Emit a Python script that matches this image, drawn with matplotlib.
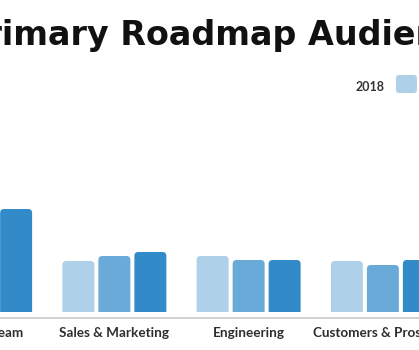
import numpy as np
import matplotlib.pyplot as plt
from matplotlib.patches import FancyBboxPatch

plt.rcParams['font.family'] = ['Lato', 'DejaVu Sans']

# ==============================================================================
# Data (percent of respondents)
# ==============================================================================
categories = ['Product Team', 'Sales & Marketing', 'Engineering', 'Customers & Prospects']
years = ['2018', '2019', '2020']
values_2018 = [46.0, 25.5, 28.0, 25.5]
values_2019 = [49.0, 28.0, 26.0, 23.5]
values_2020 = [51.5, 30.0, 26.0, 26.0]
series = [values_2018, values_2019, values_2020]
colors = ['#aed0e9', '#6aaad9', '#338ac9']

W, H, DPI = 419, 350, 100
fig = plt.figure(figsize=(W / DPI, H / DPI), dpi=DPI)

# axes placed in pixels (the chart is a crop of a wider figure)
ax_left, ax_right = -87, 450
ax_bottom, ax_top = 312, 100
ax = fig.add_axes([ax_left / W, 1 - ax_bottom / H,
                   (ax_right - ax_left) / W, (ax_bottom - ax_top) / H])
ax.set_xlim(-0.5, len(categories) - 0.5)
ax.set_ylim(0, (ax_bottom - ax_top) / 2.0)

px_x = len(categories) / (ax_right - ax_left)       # data x per pixel
px_y = 0.5                                          # data y per pixel
bar_w = 32 * px_x
step = 36 * px_x
rad = 4 * px_x

x = np.arange(len(categories))
for k, (vals, c) in enumerate(zip(series, colors)):
    for xi, v in zip(x, vals):
        left = xi + (k - 1) * step - bar_w / 2
        p = FancyBboxPatch((left, -10), bar_w, v + 10,
                           boxstyle=f"round,pad=0,rounding_size={rad}",
                           mutation_aspect=px_y / px_x,
                           fc=c, ec='none', clip_on=True)
        ax.add_patch(p)

for s in ['top', 'left', 'right']:
    ax.spines[s].set_visible(False)
ax.spines['bottom'].set_position(('outward', 4.6))
ax.spines['bottom'].set_color('#c9c9c9')
ax.spines['bottom'].set_linewidth(1.2)
ax.set_yticks([])
ax.set_xticks(x)
ax.set_xticklabels(categories, fontsize=9.7, color='#2e2e2e', fontweight='bold')
ax.tick_params(axis='x', length=0, pad=6)

# title, cropped on the left like the reference
tfont = dict(fontsize=24, fontweight='bold', family='DejaVu Sans')
title = fig.text(0, 1 - 45 / H, 'Primary Roadmap Audience', color='#111111',
                 ha='left', va='baseline', **tfont)
r = fig.canvas.get_renderer()
tmp = fig.text(0, 0, 'Primary ', **tfont)
pre_w = tmp.get_window_extent(r).width
tmp.remove()
title.set_x((120 - pre_w) / W)

# legend
lx = 396
for yr, c in zip(years, colors):
    fig.text((lx - 11) / W, 1 - 91 / H, yr, fontsize=9, fontweight='bold',
             color='#333333', ha='right', va='baseline')
    sw = FancyBboxPatch((lx / W, 1 - 93 / H), 21 / W, 18 / H,
                        boxstyle="round,pad=0,rounding_size=0.008",
                        mutation_aspect=W / H,
                        transform=fig.transFigure, fc=c, ec='none')
    fig.patches.append(sw)
    lx += 70

fig.savefig('out.png', dpi=DPI)
